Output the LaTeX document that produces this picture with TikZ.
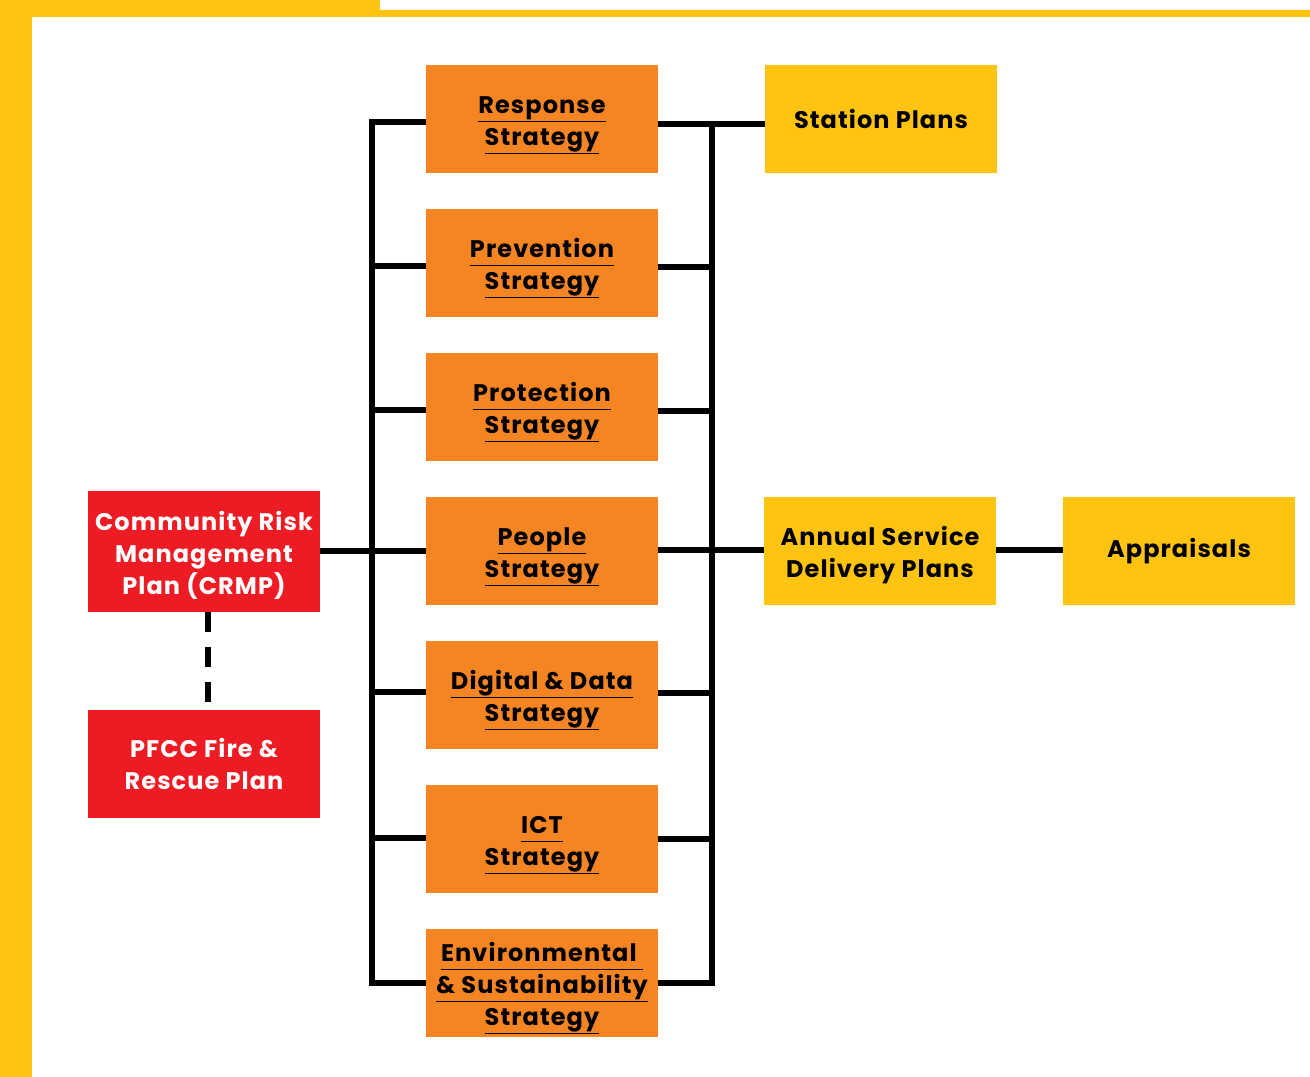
\documentclass[tikz,border=0pt]{standalone}
\usepackage{fontspec}
\setmainfont{Poppins}[LetterSpace=4.5]
\definecolor{fyellow}{HTML}{FFC312}
\definecolor{forange}{HTML}{F58423}
\definecolor{fred}{HTML}{ED1C24}
\newcommand{\ulx}[1]{\underline{#1\vphantom{gy}}}
\newcommand{\topstrut}{\rule{0pt}{22pt}}
\tikzset{
  box/.style={minimum width=232*0.75pt, minimum height=108*0.75pt, inner sep=0pt, align=center,
    font=\fontsize{18}{24}\selectfont\bfseries},
  strat/.style={box, fill=forange, text=black},
  plan/.style={box, fill=fyellow, text=black},
  redbox/.style={box, fill=fred, text=white},
  conn/.style={line width=4.5pt, black},
}
\begin{document}
\begin{tikzpicture}[x=0.75pt,y=-0.75pt]
\useasboundingbox (0,0) rectangle (1310,1077);
% border
\fill[fyellow] (0,0) rectangle (380,17);
\fill[fyellow] (380,10) rectangle (1310,17);
\fill[fyellow] (0,0) rectangle (32,1077);
% strategy boxes
\node[strat] (resp) at (542,119) {\topstrut\ulx{Response}\\\ulx{Strategy}};
\node[strat] (prev) at (542,263) {\topstrut\ulx{Prevention}\\\ulx{Strategy}};
\node[strat] (prot) at (542,407) {\topstrut\ulx{Protection}\\\ulx{Strategy}};
\node[strat] (peop) at (542,551) {\topstrut\ulx{People}\\\ulx{Strategy}};
\node[strat] (digi) at (542,695) {\topstrut\ulx{Digital \& Data}\\\ulx{Strategy}};
\node[strat] (ict) at (542,839) {\topstrut\ulx{ICT}\\\ulx{Strategy}};
\node[strat] (env) at (542,983) {\topstrut\ulx{Environmental }\\\ulx{\& Sustainability}\\\ulx{Strategy}};
% plans
\node[plan] (stat) at (881,119) {Station Plans};
\node[plan] (asdp) at (880,551) {\rule{0pt}{20pt}Annual Service\\Delivery Plans};
\node[plan] (appr) at (1179,551) {Appraisals};
% red boxes
\node[redbox, minimum height=121*0.75pt] (crmp) at (204,551.5) {\rule{0pt}{21pt}Community Risk\\Management\\Plan (CRMP)};
\node[redbox] (pfcc) at (204,764) {PFCC Fire \&\\Rescue Plan};
% coordinates of bus bars
\coordinate (lt) at (372,122);
\coordinate (lb) at (372,983);
\coordinate (rt) at (712,124);
\coordinate (rb) at (712,983);
% left bus
\draw[conn] (resp.west |- lt) -- (lt) -- (lb) -- (env.west |- lb);
\draw[conn] (prev.west |- 0,266) -- (372,266);
\draw[conn] (prot.west |- 0,410) -- (372,410);
\draw[conn] (crmp.east |- 0,551) -- (peop.west |- 0,551);
\draw[conn] (digi.west |- 0,692) -- (372,692);
\draw[conn] (ict.west |- 0,838) -- (372,838);
% right bus
\draw[conn] (resp.east |- rt) -- (stat.west |- rt);
\draw[conn] (rt) -- (rb) -- (env.east |- rb);
\draw[conn] (prev.east |- 0,267) -- (712,267);
\draw[conn] (prot.east |- 0,411) -- (712,411);
\draw[conn] (peop.east |- 0,550) -- (asdp.west |- 0,550);
\draw[conn] (digi.east |- 0,693) -- (712,693);
\draw[conn] (ict.east |- 0,839) -- (712,839);
\draw[conn] (asdp.east |- 0,550) -- (appr.west |- 0,550);
% dashed
\draw[conn, dash pattern=on 15pt off 11pt] (crmp.south -| 208,0) -- (pfcc.north -| 208,0);
\end{tikzpicture}
\end{document}
